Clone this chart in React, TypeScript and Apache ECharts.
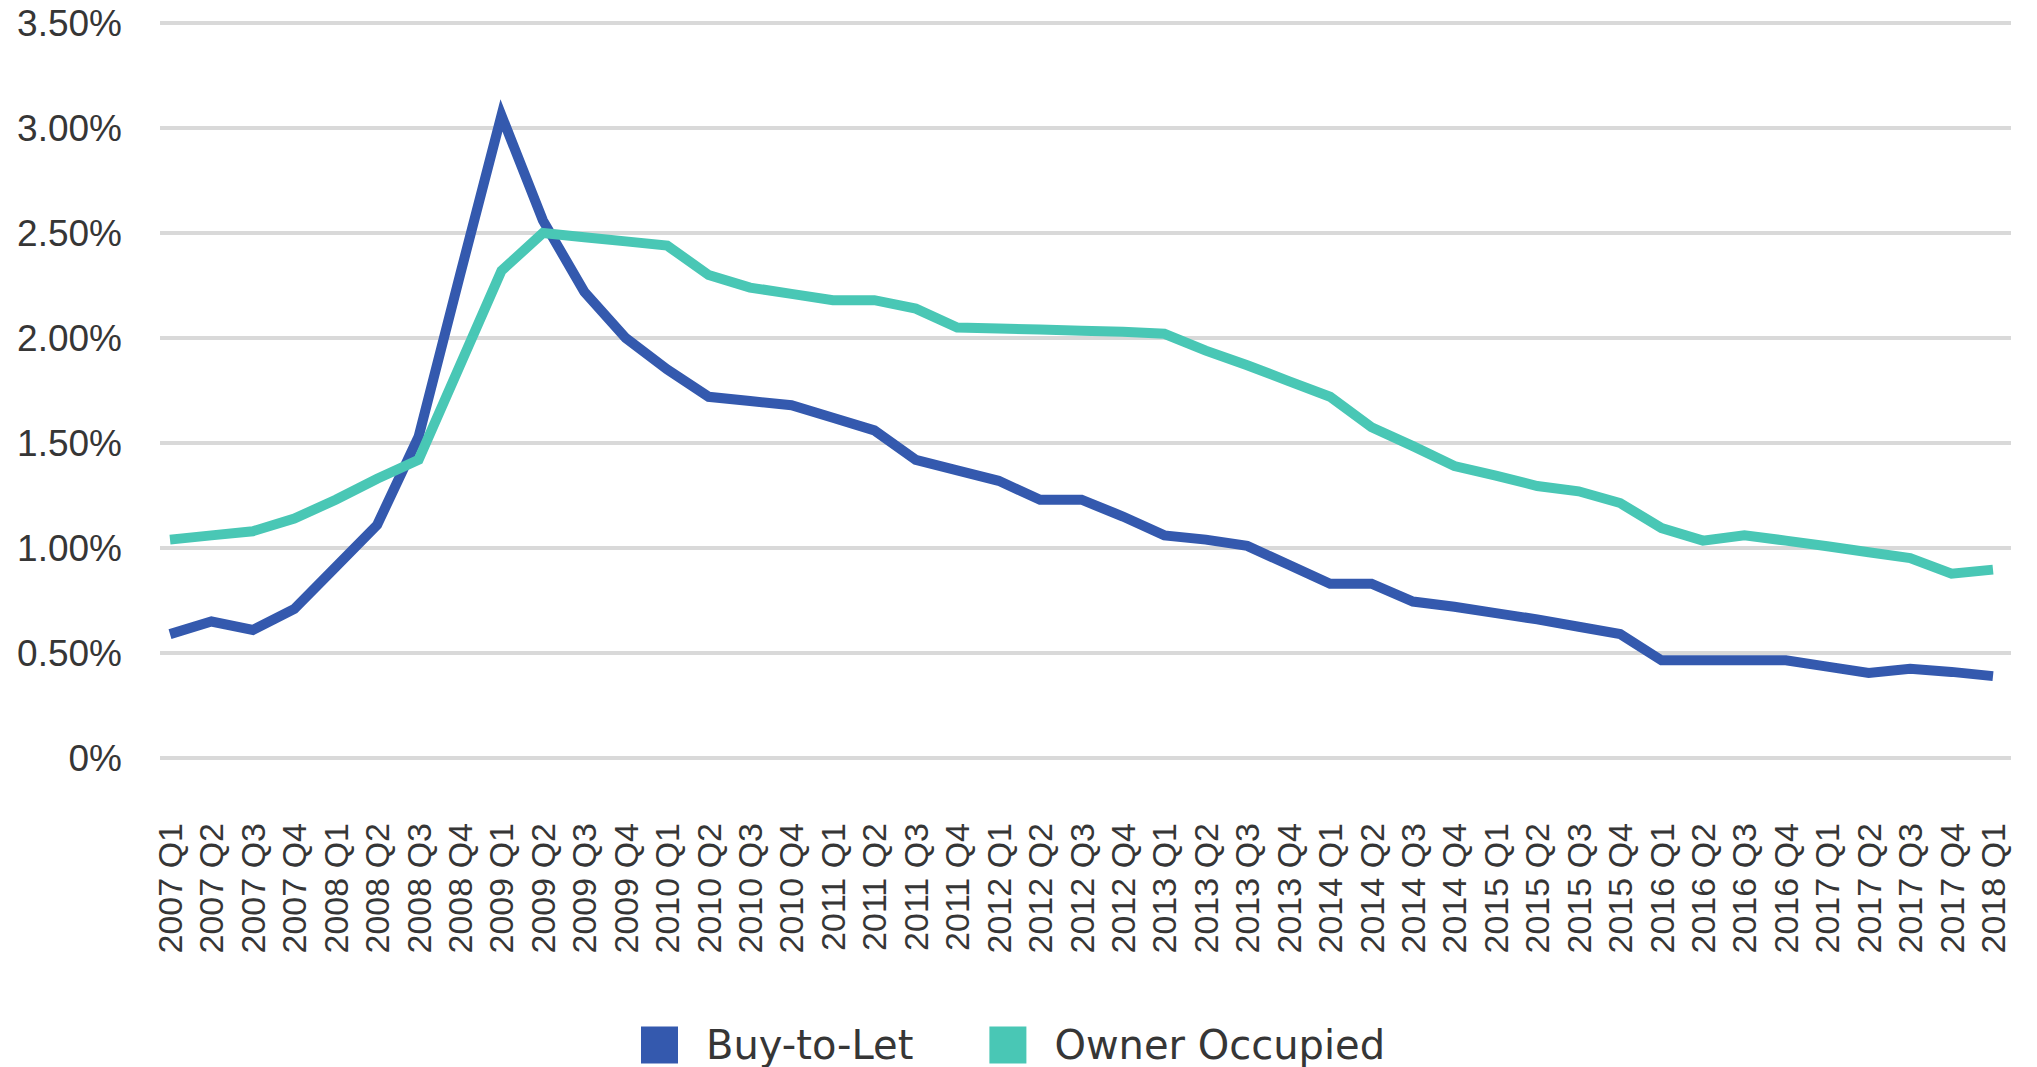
import React, { useEffect, useRef } from 'react';
import * as echarts from 'echarts';

const categories: string[] = [
  '2007 Q1', '2007 Q2', '2007 Q3', '2007 Q4',
  '2008 Q1', '2008 Q2', '2008 Q3', '2008 Q4',
  '2009 Q1', '2009 Q2', '2009 Q3', '2009 Q4',
  '2010 Q1', '2010 Q2', '2010 Q3', '2010 Q4',
  '2011 Q1', '2011 Q2', '2011 Q3', '2011 Q4',
  '2012 Q1', '2012 Q2', '2012 Q3', '2012 Q4',
  '2013 Q1', '2013 Q2', '2013 Q3', '2013 Q4',
  '2014 Q1', '2014 Q2', '2014 Q3', '2014 Q4',
  '2015 Q1', '2015 Q2', '2015 Q3', '2015 Q4',
  '2016 Q1', '2016 Q2', '2016 Q3', '2016 Q4',
  '2017 Q1', '2017 Q2', '2017 Q3', '2017 Q4',
  '2018 Q1',
];

const buyToLet: number[] = [
  0.59, 0.65, 0.61, 0.71,
  0.91, 1.11, 1.53, 2.30,
  3.06, 2.56, 2.22, 2.00,
  1.85, 1.72, 1.70, 1.68,
  1.62, 1.56, 1.42, 1.37,
  1.32, 1.23, 1.23, 1.15,
  1.06, 1.04, 1.01, 0.92,
  0.83, 0.83, 0.745, 0.72,
  0.69, 0.66, 0.625, 0.59,
  0.465, 0.465, 0.465, 0.465,
  0.435, 0.405, 0.425, 0.41,
  0.39,
];

const ownerOccupied: number[] = [
  1.04, 1.06, 1.08, 1.14,
  1.23, 1.33, 1.42, 1.87,
  2.32, 2.50, 2.48, 2.46,
  2.44, 2.30, 2.24, 2.21,
  2.18, 2.18, 2.14, 2.05,
  2.045, 2.04, 2.035, 2.03,
  2.02, 1.94, 1.87, 1.795,
  1.72, 1.575, 1.485, 1.39,
  1.345, 1.295, 1.27, 1.214,
  1.095, 1.035, 1.06, 1.035,
  1.008, 0.98, 0.952, 0.878,
  0.897,
];

const seriesNames: string[] = ['Buy-to-Let', 'Owner Occupied'];
const yMin = 0;
const yMax = 3.5;
const yStep = 0.5;

const BLUE = '#3459AE';
const TEAL = '#49C7B5';
const TEXT = '#363636';
const AXIS_FONT = "'Liberation Sans', Arial, sans-serif";
const LEGEND_FONT = "'DejaVu Sans', sans-serif";

export default function App() {
  const ref = useRef<HTMLDivElement>(null);

  useEffect(() => {
    if (!ref.current) return;
    const chart = echarts.init(ref.current, null, { renderer: 'svg' });
    const gridTop = 23;
    const gridHeight = 735;
    chart.setOption({
      animation: false,
      backgroundColor: '#ffffff',
      textStyle: { fontFamily: AXIS_FONT },
      grid: [
        { left: 160, width: 1851, top: gridTop, height: gridHeight },
        { left: 170, width: 1823, top: gridTop, height: gridHeight },
      ],
      xAxis: [
        { gridIndex: 0, type: 'value', min: 0, max: 1, show: false },
        {
          gridIndex: 1,
          type: 'category',
          data: categories,
          boundaryGap: false,
          axisLine: { show: false },
          axisTick: { show: false },
          splitLine: { show: false },
          axisLabel: {
            interval: 0,
            rotate: 90,
            margin: 65,
            color: TEXT,
            fontSize: 34,
            fontFamily: AXIS_FONT,
          },
        },
      ],
      yAxis: [
        {
          gridIndex: 0,
          type: 'value',
          min: yMin,
          max: yMax,
          interval: yStep,
          axisLine: { show: false },
          axisTick: { show: false },
          splitLine: { show: true, lineStyle: { color: '#d9d9d9', width: 4 } },
          axisLabel: {
            margin: 38,
            color: TEXT,
            fontSize: 37,
            fontFamily: AXIS_FONT,
            formatter: (v: number) => (v === 0 ? '0%' : v.toFixed(2) + '%'),
          },
        },
        {
          gridIndex: 1,
          type: 'value',
          min: yMin,
          max: yMax,
          interval: yStep,
          show: false,
          splitLine: { show: false },
        },
      ],
      legend: {
        left: 636,
        top: 1020,
        icon: 'rect',
        itemWidth: 37,
        itemHeight: 37,
        itemGap: 76,
        data: seriesNames,
        textStyle: {
          color: TEXT,
          fontSize: 40,
          lineHeight: 40,
          fontFamily: LEGEND_FONT,
          padding: [0, 0, 0, 23],
        },
      },
      series: [
        {
          name: seriesNames[0],
          type: 'line',
          xAxisIndex: 1,
          yAxisIndex: 1,
          data: buyToLet,
          showSymbol: false,
          symbol: 'none',
          color: BLUE,
          itemStyle: { color: BLUE },
          lineStyle: { color: BLUE, width: 10, join: 'miter', miterLimit: 10, cap: 'butt' },
          z: 3,
        },
        {
          name: seriesNames[1],
          type: 'line',
          xAxisIndex: 1,
          yAxisIndex: 1,
          data: ownerOccupied,
          showSymbol: false,
          symbol: 'none',
          color: TEAL,
          itemStyle: { color: TEAL },
          lineStyle: { color: TEAL, width: 10, join: 'miter', miterLimit: 10, cap: 'butt' },
          z: 4,
        },
      ],
    });
    return () => chart.dispose();
  }, []);

  return (
    <div
      ref={ref}
      style={{ position: 'fixed', left: 0, top: 0, width: 2037, height: 1067, background: '#fff' }}
    />
  );
}
